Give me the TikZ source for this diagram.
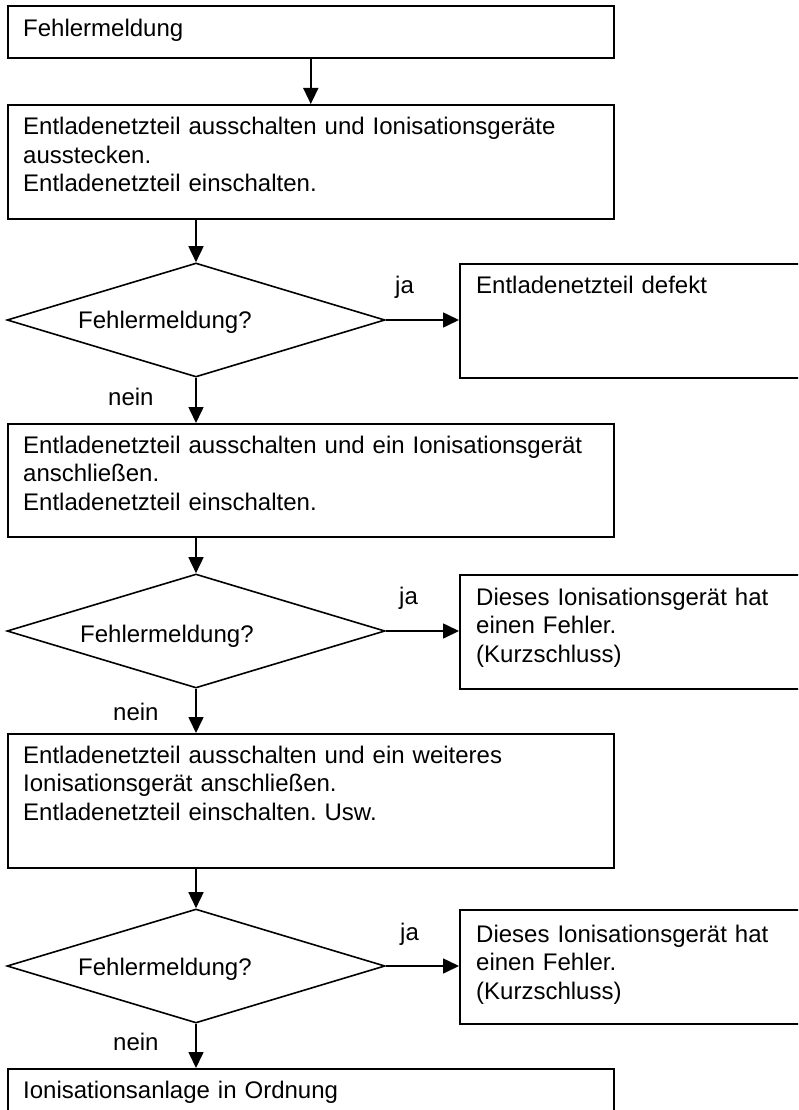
\documentclass[tikz,border=0pt]{standalone}
\usepackage{fontspec}
\setmainfont{Liberation Sans}
\frenchspacing
\usetikzlibrary{shapes.geometric,arrows.meta,calc}
\begin{document}
\begin{tikzpicture}[x=1pt,y=-1pt,
  box/.style={draw, line width=1.6pt, rectangle, inner sep=0pt, anchor=north west},
  dia/.style={draw, line width=1.6pt, diamond, inner sep=0pt, minimum width=378pt, minimum height=114pt},
  txt/.style={anchor=base west, inner sep=0pt, text width=600pt, align=left, font=\fontsize{24}{28.5}\selectfont\frenchspacing},
  lbl/.style={anchor=base west, inner sep=0pt, font=\fontsize{24}{28.5}\selectfont},
  arr/.style={line width=1.6pt, -{Triangle[length=16pt,width=15pt]}}]
\useasboundingbox (0,0) rectangle (798,1110);
\clip (0,0) rectangle (798,1110);

% boxes
\node[box, minimum width=606pt, minimum height=52pt] (b1) at (7,5) {};
\node[box, minimum width=606pt, minimum height=114pt] (b2) at (7,104) {};
\node[dia] (d1) at (196,320) {};
\node[box, minimum width=360pt, minimum height=114pt] (r1) at (459,263) {};
\node[box, minimum width=606pt, minimum height=113pt] (b3) at (7,423) {};
\node[dia] (d2) at (196,631) {};
\node[box, minimum width=360pt, minimum height=114pt] (r2) at (459,574) {};
\node[box, minimum width=606pt, minimum height=134pt] (b4) at (7,733) {};
\node[dia] (d3) at (196,966) {};
\node[box, minimum width=360pt, minimum height=114pt] (r3) at (459,909) {};
\node[box, minimum width=606pt, minimum height=60pt] (b5) at (7,1068) {};

% texts
\node[txt] (t1) at (23,37) {Fehlermeldung};
\node[txt] (t2) at (23,135) {Entladenetzteil ausschalten und Ionisationsgeräte\\ausstecken.\\Entladenetzteil einschalten.};
\node[lbl] (q1) at (78,328) {Fehlermeldung?};
\node[txt, text width=300pt] (s1) at (476,293) {Entladenetzteil defekt};
\node[txt] (t3) at (23,453) {Entladenetzteil ausschalten und ein Ionisationsgerät\\anschließen.\\Entladenetzteil einschalten.};
\node[lbl] (q2) at (80,642) {Fehlermeldung?};
\node[txt, text width=300pt] (s2) at (476,605) {Dieses Ionisationsgerät hat\\einen Fehler.\\(Kurzschluss)};
\node[txt] (t4) at (23,763) {Entladenetzteil ausschalten und ein weiteres\\Ionisationsgerät anschließen.\\Entladenetzteil einschalten. Usw.};
\node[lbl] (q3) at (78,975) {Fehlermeldung?};
\node[txt, text width=300pt] (s3) at (476,942) {Dieses Ionisationsgerät hat\\einen Fehler.\\(Kurzschluss)};
\node[txt] (t5) at (23,1098) {Ionisationsanlage in Ordnung};

% labels
\node[lbl] (ja1) at (395,293) {ja};
\node[lbl] (ja2) at (399,604) {ja};
\node[lbl] (ja3) at (400,940) {ja};
\node[lbl] (n1) at (108,405) {nein};
\node[lbl] (n2) at (113,720) {nein};
\node[lbl] (n3) at (113,1050) {nein};

% connectors
\draw[arr] (b1.south) -- (b2.north);
\draw[arr] (b2.south -| d1.north) -- (d1.north);
\draw[arr] (d1.east) -- (r1.west |- d1.east);
\draw[arr] (d1.south) -- (b3.north -| d1.south);
\draw[arr] (b3.south -| d2.north) -- (d2.north);
\draw[arr] (d2.east) -- (r2.west |- d2.east);
\draw[arr] (d2.south) -- (b4.north -| d2.south);
\draw[arr] (b4.south -| d3.north) -- (d3.north);
\draw[arr] (d3.east) -- (r3.west |- d3.east);
\draw[arr] (d3.south) -- (b5.north -| d3.south);
\end{tikzpicture}
\end{document}
